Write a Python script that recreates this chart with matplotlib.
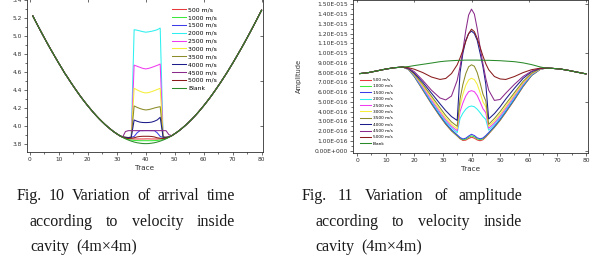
import numpy as np
import matplotlib
matplotlib.use("Agg")
from matplotlib import pyplot as plt
from matplotlib.ticker import MultipleLocator, FuncFormatter

W, H = 592, 258
fig = plt.figure(figsize=(W / 100, H / 100), dpi=100)

labels = ['500 m/s', '1000 m/s', '1500 m/s', '2000 m/s', '2500 m/s', '3000 m/s',
          '3500 m/s', '4000 m/s', '4500 m/s', '5000 m/s', 'Blank']
colors = ['#e8383c', '#3ce83c', '#3c3ce8', '#2ef0f0', '#f03cf0', '#f5ef3a',
          '#8c8c2a', '#1c1c8a', '#8a2a8a', '#8a1c1c', '#2a8a2a']

# ---- Fig. 10 : arrival time, traces 1..80
trace_time = list(range(1, 81))
time_base = [5.226, 5.163, 5.101, 5.040, 4.980, 4.921, 4.863, 4.807, 4.751, 4.696,
             4.643, 4.588, 4.540, 4.490, 4.442, 4.395, 4.349, 4.305, 4.263, 4.222,
             4.183, 4.145, 4.109, 4.075, 4.043, 4.012, 3.984, 3.957, 3.932, 3.910,
             3.889, 3.871, 3.854, 3.840, 3.828, 3.818, 3.810, 3.805, 3.801, 3.800,
             3.801, 3.805, 3.810, 3.818, 3.828, 3.840, 3.854, 3.871, 3.889, 3.910,
             3.932, 3.957, 3.984, 4.012, 4.043, 4.075, 4.109, 4.145, 4.183, 4.222,
             4.263, 4.305, 4.349, 4.395, 4.442, 4.490, 4.540, 4.590, 4.643, 4.696,
             4.751, 4.807, 4.863, 4.921, 4.980, 5.040, 5.101, 5.163, 5.226, 5.289]
# traces 31..50, where the curves split
t500 = [3.889, 3.872, 3.860, 3.855, 3.853, 3.852, 3.852, 3.852, 3.852, 3.853,
        3.853, 3.852, 3.852, 3.852, 3.853, 3.855, 3.860, 3.872, 3.889, 3.910]
t1000 = [3.889, 3.871, 3.857, 3.847, 3.840, 3.836, 3.834, 3.833, 3.833, 3.833,
         3.833, 3.833, 3.834, 3.836, 3.840, 3.847, 3.857, 3.871, 3.889, 3.910]
t1500 = [3.889, 3.875, 3.868, 3.868, 3.870, 3.880, 3.920, 3.945, 3.945, 3.946,
         3.946, 3.945, 3.945, 3.920, 3.880, 3.870, 3.868, 3.875, 3.889, 3.910]
t2000 = [3.889, 3.876, 3.870, 3.868, 3.870, 5.072, 5.066, 5.058, 5.050, 5.044,
         5.048, 5.054, 5.062, 5.072, 5.090, 3.872, 3.870, 3.876, 3.889, 3.910]
t2500 = [3.889, 3.876, 3.870, 3.868, 3.870, 4.676, 4.664, 4.652, 4.640, 4.634,
         4.640, 4.650, 4.662, 4.674, 4.688, 3.872, 3.870, 3.876, 3.889, 3.910]
t3000 = [3.889, 3.876, 3.870, 3.868, 3.872, 4.418, 4.400, 4.385, 4.372, 4.366,
         4.370, 4.380, 4.392, 4.405, 4.418, 3.874, 3.870, 3.876, 3.889, 3.910]
t3500 = [3.889, 3.876, 3.870, 3.868, 3.872, 4.221, 4.205, 4.192, 4.182, 4.176,
         4.180, 4.188, 4.198, 4.206, 4.213, 3.874, 3.870, 3.876, 3.889, 3.910]
t4000 = [3.889, 3.876, 3.870, 3.868, 3.870, 4.064, 4.050, 4.040, 4.036, 4.035,
         4.036, 4.040, 4.050, 4.065, 4.094, 3.872, 3.870, 3.876, 3.889, 3.910]
t4500 = [3.889, 3.872, 3.935, 3.945, 3.945, 3.945, 3.945, 3.945, 3.945, 3.945,
         3.945, 3.945, 3.945, 3.945, 3.945, 3.945, 3.945, 3.900, 3.889, 3.910]
t5000 = [3.889, 3.872, 3.862, 3.858, 3.860, 3.865, 3.875, 3.880, 3.882, 3.882,
         3.882, 3.880, 3.875, 3.865, 3.860, 3.858, 3.862, 3.872, 3.889, 3.910]
tblank = time_base[30:50]

# ---- Fig. 11 : amplitude (x 1e-16)
amp_head_trace = [1, 4, 7, 10, 13, 16]
amp_mid_trace = [18, 20, 23, 26, 29, 31, 33, 35, 36, 37, 38, 39, 40, 41, 42, 43, 44,
                 45, 46, 48, 50, 52, 55, 58, 61, 64]
amp_tail_trace = [66, 68, 71, 74, 77, 80]
amp_head = [7.90, 8.00, 8.18, 8.36, 8.50, 8.57]
amp_tail = [8.46, 8.44, 8.37, 8.22, 8.04, 7.87]
a500 = [8.32, 7.60, 6.20, 4.80, 3.50, 2.70, 2.02, 1.50, 1.22, 1.05, 1.08, 1.25, 1.38,
        1.28, 1.10, 1.02, 1.12, 1.40, 1.72, 2.38, 3.10, 3.92, 5.20, 6.55, 7.70, 8.33]
a1000 = [8.33, 7.62, 6.25, 4.85, 3.55, 2.75, 2.08, 1.55, 1.28, 1.12, 1.18, 1.38, 1.52,
         1.42, 1.22, 1.12, 1.22, 1.48, 1.78, 2.42, 3.15, 3.98, 5.25, 6.60, 7.72, 8.34]
a1500 = [8.34, 7.65, 6.30, 4.90, 3.62, 2.82, 2.15, 1.62, 1.35, 1.20, 1.28, 1.50, 1.68,
         1.55, 1.32, 1.22, 1.30, 1.55, 1.85, 2.50, 3.22, 4.05, 5.30, 6.65, 7.75, 8.35]
a2000 = [8.35, 7.70, 6.40, 5.05, 3.80, 3.00, 2.35, 1.85, 3.30, 3.85, 4.25, 4.50, 4.58,
         4.50, 4.25, 3.90, 3.50, 3.20, 2.10, 2.70, 3.40, 4.20, 5.45, 6.75, 7.80, 8.36]
a2500 = [8.36, 7.75, 6.50, 5.20, 3.95, 3.15, 2.50, 2.05, 4.00, 4.90, 5.60, 6.05, 6.15,
         6.05, 5.65, 5.00, 4.30, 3.90, 2.30, 2.85, 3.55, 4.35, 5.60, 6.85, 7.85, 8.37]
a3000 = [8.37, 7.80, 6.65, 5.40, 4.15, 3.35, 2.70, 2.25, 4.60, 5.80, 6.70, 7.25, 7.42,
         7.28, 6.80, 5.95, 5.00, 4.50, 2.50, 3.05, 3.75, 4.55, 5.75, 6.95, 7.90, 8.38]
a3500 = [8.38, 7.85, 6.80, 5.60, 4.40, 3.60, 2.95, 2.50, 5.30, 6.80, 7.90, 8.60, 8.80,
         8.65, 8.00, 6.95, 5.80, 5.10, 2.70, 3.30, 4.00, 4.80, 5.95, 7.10, 7.95, 8.40]
a4000 = [8.40, 7.95, 7.00, 5.90, 4.80, 4.10, 3.50, 3.10, 8.00, 10.0, 11.3, 12.0, 12.25,
         12.0, 11.3, 10.0, 8.60, 6.80, 3.25, 3.80, 4.50, 5.30, 6.40, 7.40, 8.10, 8.42]
a4500 = [8.45, 8.10, 7.20, 6.20, 5.40, 5.20, 5.60, 7.20, 8.60, 10.3, 12.3, 13.9, 14.5,
         14.0, 12.5, 10.6, 8.90, 7.40, 6.20, 5.15, 5.25, 5.90, 6.80, 7.60, 8.15, 8.45]
a5000 = [8.50, 8.35, 8.00, 7.55, 7.30, 7.40, 7.90, 8.80, 9.50, 10.3, 11.2, 12.0, 12.45,
         12.2, 11.5, 10.6, 9.70, 8.90, 8.30, 7.60, 7.35, 7.30, 7.60, 8.00, 8.30, 8.45]
ablank = [8.62, 8.72, 8.85, 8.98, 9.12, 9.18, 9.22, 9.25, 9.26, 9.27, 9.28, 9.28, 9.28,
          9.28, 9.28, 9.27, 9.27, 9.26, 9.26, 9.24, 9.22, 9.18, 9.12, 9.00, 8.82, 8.58]
AMP_UNIT = 1e-16

time_mids = [t500, t1000, t1500, t2000, t2500, t3000, t3500, t4000, t4500, t5000, tblank]
amp_mids = [a500, a1000, a1500, a2000, a2500, a3000, a3500, a4000, a4500, a5000, ablank]

ink = '#303030'


def px_box(left, right, top, bottom):
    return [left / W, 1 - bottom / H, (right - left) / W, (bottom - top) / H]


def style(ax, fs):
    for s in ax.spines.values():
        s.set_color(ink)
        s.set_linewidth(0.6)
    ax.tick_params(which='both', direction='out', colors=ink, width=0.5,
                   labelsize=fs, pad=1.5)
    ax.tick_params(which='major', length=2.2)
    ax.tick_params(which='minor', length=1.2)
    for sec in (ax.secondary_xaxis('top'), ax.secondary_yaxis('right')):
        sec.tick_params(which='both', direction='in', colors=ink, width=0.5,
                        labeltop=False, labelright=False)
        sec.tick_params(which='major', length=2.2)
        sec.tick_params(which='minor', length=1.2)
        sec.spines[:].set_visible(False)
    return ax


# ---- left chart
ax1 = fig.add_axes(px_box(27, 263, -0.6, 151.7))
for mid, lab, c in zip(time_mids, labels, colors):
    vals = time_base[:30] + mid + time_base[50:]
    ax1.plot(trace_time, vals, color=c, lw=0.75, label=lab)
ax1.set_xlim(-1.0, 80.5)
ax1.set_ylim(3.71, 5.41)
ax1.xaxis.set_major_locator(MultipleLocator(10))
ax1.xaxis.set_minor_locator(MultipleLocator(5))
ax1.yaxis.set_major_locator(MultipleLocator(0.2))
ax1.yaxis.set_minor_locator(MultipleLocator(0.1))
ax1.yaxis.set_major_formatter(FuncFormatter(lambda v, p: f"{v:.1f}"))
style(ax1, 4.2)
ax1.set_xlabel('Trace', fontsize=5.2, color=ink, labelpad=2)
fig.text(-4 / W, 1 - 68 / H, 'Time (ms)', rotation=90, ha='center', va='center',
         fontsize=5.2, color=ink)
ax1.legend(loc='upper left', bbox_to_anchor=(172 / W, 1 - 7.0 / H),
           bbox_transform=fig.transFigure, frameon=False, fontsize=4.4,
           handlelength=2.35, handletextpad=0.35, labelspacing=0.42,
           borderpad=0, borderaxespad=0)

# ---- right chart
ax2 = fig.add_axes(px_box(353, 588, -0.5, 152.7))
for mid, lab, c in zip(amp_mids, labels, colors):
    xs = amp_head_trace + amp_mid_trace + amp_tail_trace
    ys = np.array(amp_head + mid + amp_tail) * AMP_UNIT
    ax2.plot(xs, ys, color=c, lw=0.75, label=lab)
ax2.set_xlim(-1.4, 80.7)
ax2.set_ylim(-0.0205e-15, 1.549e-15)
ax2.xaxis.set_major_locator(MultipleLocator(10))
ax2.xaxis.set_minor_locator(MultipleLocator(5))
ax2.yaxis.set_major_locator(MultipleLocator(1e-16))
ax2.yaxis.set_minor_locator(MultipleLocator(5e-17))


def sci(v, pos):
    m, e = f"{v:.2E}".split('E')
    if abs(v) < 1e-20:
        m, e = '0.00', '0'
    return f"{m}E{int(e):+04d}"


ax2.yaxis.set_major_formatter(FuncFormatter(sci))
style(ax2, 4.3)
ax2.set_xlabel('Trace', fontsize=5.2, color=ink, labelpad=2)
fig.text(299 / W, 1 - 76 / H, 'Amplitude', rotation=90, ha='center', va='center',
         fontsize=4.8, color=ink)
ax2.legend(loc='upper left', bbox_to_anchor=(360 / W, 1 - 78 / H),
           bbox_transform=fig.transFigure, frameon=False, fontsize=3.1,
           handlelength=2.6, handletextpad=0.4, labelspacing=0.55,
           borderpad=0, borderaxespad=0)

# ---- captions (justified like the paper)
cap_kw = dict(fontsize=11.5, family=['Liberation Serif', 'DejaVu Serif'],
              color='#1a1a1a', va='baseline', ha='left')
renderer = fig.canvas.get_renderer()


def caption_line(words, x0, y, x1=None, gap=5.0):
    texts = [fig.text(0, 1 - y / H, w, **cap_kw) for w in words]
    widths = [t.get_window_extent(renderer).width for t in texts]
    if x1 is not None and len(words) > 1:
        gap = (x1 - x0 - sum(widths)) / (len(words) - 1)
    x = x0
    for t, w in zip(texts, widths):
        t.set_x(x / W)
        x += w + gap


caption_line(['Fig.', '10', 'Variation', 'of', 'arrival', 'time'], 17, 200, 235)
caption_line(['according', 'to', 'velocity', 'inside'], 30, 226, 235)
caption_line(['cavity', '(4m\u00d74m)'], 30, 251, gap=7)
caption_line(['Fig.', '11', 'Variation', 'of', 'amplitude'], 302, 200, 522)
caption_line(['according', 'to', 'velocity', 'inside'], 315, 226, 522)
caption_line(['cavity', '(4m\u00d74m)'], 315, 251, gap=7)

fig.savefig('out.png', dpi=100)
